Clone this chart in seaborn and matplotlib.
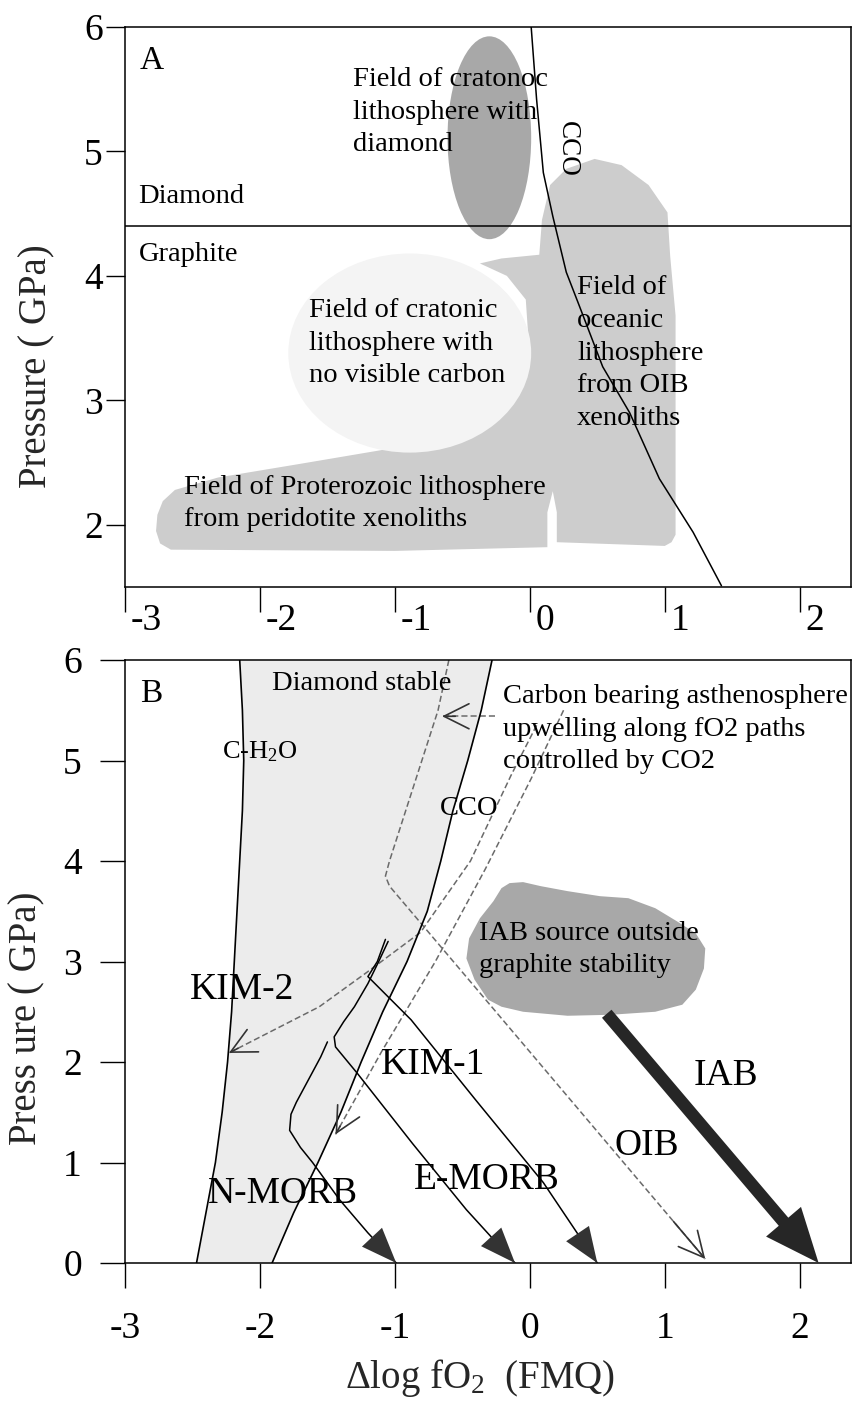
import matplotlib
matplotlib.use("Agg")
import matplotlib.pyplot as plt
import matplotlib.transforms as mtransforms
from matplotlib.patches import Ellipse
import seaborn as sns

# =============================================================================
# DATA  (x = delta log fO2 relative to FMQ, P = pressure in GPa)
# =============================================================================

X_TICKS = [-3, -2, -1, 0, 1, 2]
X_LIM = (-3.0, 2.38)
YA_TICKS = [2, 3, 4, 5, 6]
YA_LIM = (1.5, 6.0)
YB_TICKS = [0, 1, 2, 3, 4, 5, 6]
YB_LIM = (0.0, 6.0)

# --- panel A ---
GRAPHITE_DIAMOND_P = 4.40

CCO_A_X = [0.01, 0.05, 0.10, 0.17, 0.21, 0.27, 0.37, 0.54, 0.74, 0.96, 1.21, 1.42]
CCO_A_P = [6.00, 5.42, 4.83, 4.48, 4.30, 4.03, 3.75, 3.27, 2.90, 2.37, 1.94, 1.51]

# Proterozoic + oceanic lithosphere field (outline)
FIELD_X = [-2.77, -2.76, -2.72, -2.63, -2.31, -1.70, -1.10, -0.69, -0.37, -0.13, -0.01,
           -0.03, -0.17, -0.37, -0.21, 0.07, 0.09, 0.15, 0.27, 0.48, 0.68,
           0.88, 1.02, 1.04, 1.08, 1.08, 1.05, 1.00, 0.20, 0.20, 0.17,
           0.13, 0.13, -1.00, -2.66, -2.74]
FIELD_P = [1.95, 2.08, 2.19, 2.28, 2.38, 2.49, 2.60, 2.73, 2.92, 3.17, 3.49,
           3.81, 4.00, 4.10, 4.14, 4.17, 4.45, 4.73, 4.86, 4.94, 4.89,
           4.73, 4.51, 4.16, 3.68, 1.92, 1.86, 1.83, 1.86, 2.10, 2.27,
           2.10, 1.82, 1.79, 1.80, 1.85]

# ellipses: (centre x, centre P, width, height)
DIAMOND_FIELD = (-0.30, 5.11, 0.62, 1.63)
NO_CARBON_FIELD = (-0.89, 3.38, 1.80, 1.60)

# --- panel B ---
P_LEVELS = [6.0, 5.5, 5.0, 4.5, 4.0, 3.5, 3.0, 2.5, 2.0, 1.5, 1.0, 0.5, 0.0]
CH2O_X = [-2.15, -2.13, -2.12, -2.13, -2.15, -2.17, -2.19, -2.21, -2.24, -2.28, -2.33, -2.40, -2.47]
CCO_B_X = [-0.28, -0.36, -0.46, -0.57, -0.66, -0.76, -0.91, -1.09, -1.25, -1.40, -1.57, -1.75, -1.91]

IAB_SRC_X = [-0.15, -0.05, 0.08, 0.28, 0.52, 0.73, 0.93, 1.09, 1.23, 1.30, 1.29, 1.23,
             1.13, 0.93, 0.60, 0.28, -0.05, -0.21, -0.31, -0.41, -0.47, -0.45, -0.37, -0.27, -0.21]
IAB_SRC_P = [3.78, 3.79, 3.75, 3.70, 3.65, 3.63, 3.53, 3.40, 3.28, 3.13, 2.93, 2.72,
             2.57, 2.50, 2.47, 2.46, 2.50, 2.55, 2.62, 2.82, 3.03, 3.23, 3.43, 3.60, 3.73]

OIB_X = [-0.60, -0.68, -0.80, -0.92, -1.04, -1.07, -1.04, 1.30]
OIB_P = [6.00, 5.50, 5.00, 4.50, 4.00, 3.85, 3.75, 0.04]

POINTER_X = [-0.26, -0.65]
POINTER_P = [5.44, 5.44]

KIM2_DASH_X = [0.05, -0.14, -0.44, -0.81, -1.21, -1.56, -2.23]
KIM2_DASH_P = [5.35, 4.85, 4.00, 3.29, 2.89, 2.55, 2.09]

KIM1_DASH_X = [0.25, 0.01, -0.33, -0.70, -1.10, -1.44]
KIM1_DASH_P = [5.50, 4.82, 3.92, 3.00, 2.10, 1.28]

NMORB_X = [-1.50, -1.55, -1.61, -1.67, -1.73, -1.77, -1.78, -1.70, -1.61, -1.41, -1.20, -0.99]
NMORB_P = [2.20, 2.05, 1.90, 1.75, 1.60, 1.48, 1.32, 1.15, 1.00, 0.63, 0.30, 0.00]

EMORB_X = [-1.05, -1.12, -1.20, -1.30, -1.38, -1.45, -1.44, -1.28, -0.87, -0.47, -0.11]
EMORB_P = [3.20, 3.00, 2.78, 2.55, 2.40, 2.25, 2.15, 1.89, 1.19, 0.53, 0.00]

KIM1_X = [-1.07, -1.13, -1.20, -0.88, -0.40, 0.10, 0.50]
KIM1_P = [3.22, 3.00, 2.85, 2.42, 1.62, 0.80, 0.00]

IAB_X = [0.57, 2.14]
IAB_P = [2.48, 0.00]

# =============================================================================
# STYLE
# =============================================================================

FS_TICK = 27
FS_LABEL = 28
FS_PANEL = 24
FS_TEXT = 20.5
FS_BIG = 27

C_FIELD = "#cdcdcd"
C_DARK = "#a8a8a8"
C_PALE = "#f4f4f4"
C_BAND = "#ececec"
C_DASH = "#6a6a6a"

sns.set_theme(style="ticks")
plt.rcParams.update({
    "font.family": ["Liberation Serif", "DejaVu Serif"],
    "mathtext.fontset": "custom",
    "mathtext.rm": "Liberation Serif",
    "mathtext.it": "Liberation Serif:italic",
    "axes.edgecolor": "black",
    "axes.linewidth": 1.1,
    "xtick.color": "black",
    "ytick.color": "black",
    "text.color": "black",
})


def line(ax, xs, ps, **kw):
    sns.lineplot(x=xs, y=ps, sort=False, estimator=None, ax=ax, legend=False, **kw)


def head(ax, xs, ps, style, scale, color, lw, back=1.0):
    tip = (xs[-1], ps[-1])
    tail = (xs[-1] + back * (xs[-2] - xs[-1]), ps[-1] + back * (ps[-2] - ps[-1]))
    ax.annotate("", xy=tip, xytext=tail, zorder=4,
                arrowprops=dict(arrowstyle=style, mutation_scale=scale, color=color,
                                lw=lw, shrinkA=0, shrinkB=0))


W, H = 856, 1404
fig = plt.figure(figsize=(W / 100, H / 100), dpi=100)
ax_a = fig.add_axes([125 / W, 1 - 587 / H, 726 / W, 560 / H])
ax_b = fig.add_axes([125 / W, 1 - 1263 / H, 726 / W, 603 / H])

# ---------------------------------------------------------------- panel A
ax_a.fill(FIELD_X, FIELD_P, color=C_FIELD, lw=0, zorder=1)
cx, cp, w, h = NO_CARBON_FIELD
ax_a.add_patch(Ellipse((cx, cp), w, h, color=C_PALE, lw=0, zorder=1.5))
cx, cp, w, h = DIAMOND_FIELD
ax_a.add_patch(Ellipse((cx, cp), w, h, color=C_DARK, lw=0, zorder=1.5))

ax_a.axhline(GRAPHITE_DIAMOND_P, color="black", lw=1.1, zorder=3)
line(ax_a, CCO_A_X, CCO_A_P, color="black", linewidth=1.1, zorder=3)

ax_a.text(-2.89, 5.73, "A", fontsize=FS_PANEL, va="center", ha="left")
ax_a.text(-2.90, 4.64, "Diamond", fontsize=FS_TEXT, va="center", ha="left")
ax_a.text(-2.90, 4.17, "Graphite", fontsize=FS_TEXT, va="center", ha="left")
ax_a.text(-1.31, 5.315, "Field of cratonoc\nlithosphere with\ndiamond",
          fontsize=FS_TEXT, va="center", ha="left", linespacing=1.4, zorder=5)
ax_a.text(-1.64, 3.46, "Field of cratonic\nlithosphere with\nno visible carbon",
          fontsize=FS_TEXT, va="center", ha="left", linespacing=1.4, zorder=5)
ax_a.text(0.35, 3.38, "Field of\noceanic\nlithosphere\nfrom OIB\nxenoliths",
          fontsize=FS_TEXT, va="center", ha="left", linespacing=1.4, zorder=5)
ax_a.text(-2.56, 2.17, "Field of Proterozoic lithosphere\nfrom peridotite xenoliths",
          fontsize=FS_TEXT, va="center", ha="left", linespacing=1.4, zorder=5)
ax_a.text(0.28, 5.02, "CCO", fontsize=19.5, rotation=-90, va="center", ha="center")

ax_a.set_xlim(*X_LIM)
ax_a.set_ylim(*YA_LIM)
ax_a.set_xticks(X_TICKS)
ax_a.set_xticklabels([str(v) for v in X_TICKS])
ax_a.set_yticks(YA_TICKS)
ax_a.tick_params(axis="x", direction="out", length=18, width=1.0, pad=-6,
                 labelsize=FS_TICK)
ax_a.tick_params(axis="y", direction="out", length=14, width=1.0, pad=2,
                 labelsize=FS_TICK)
shift = mtransforms.ScaledTranslation(4 / 72, 0, fig.dpi_scale_trans)
for lab in ax_a.get_xticklabels():
    lab.set_horizontalalignment("left")
    lab.set_transform(lab.get_transform() + shift)
ax_a.set_xlabel("")
ax_a.set_ylabel("Pressure ( GPa)", fontsize=FS_LABEL, va="center", ha="center")
ax_a.yaxis.set_label_coords(-0.121, 0.395)

# ---------------------------------------------------------------- panel B
ax_b.fill_betweenx(P_LEVELS, CH2O_X, CCO_B_X, color=C_BAND, lw=0, zorder=1)
ax_b.fill(IAB_SRC_X, IAB_SRC_P, color=C_DARK, lw=0, zorder=1)

line(ax_b, CH2O_X, P_LEVELS, color="black", linewidth=1.2, zorder=3)
line(ax_b, CCO_B_X, P_LEVELS, color="black", linewidth=1.2, zorder=3)

dash = (0, (4, 2))
for xs, ps in [(OIB_X, OIB_P), (POINTER_X, POINTER_P),
               (KIM2_DASH_X, KIM2_DASH_P), (KIM1_DASH_X, KIM1_DASH_P)]:
    line(ax_b, xs, ps, color=C_DASH, linewidth=1.1, linestyle=dash, zorder=2)
    head(ax_b, xs, ps, "->,head_length=0.6,head_width=0.3", 30, "#333333", 1.2,
         back=0.1 if len(xs) > 2 else 0.25)

for xs, ps in [(NMORB_X, NMORB_P), (EMORB_X, EMORB_P), (KIM1_X, KIM1_P)]:
    line(ax_b, xs, ps, color="black", linewidth=1.1, zorder=3)
    head(ax_b, xs, ps, "-|>,head_length=0.85,head_width=0.33", 30, "#333333", 0)

ax_b.annotate("", xy=(IAB_X[1], IAB_P[1]), xytext=(IAB_X[0], IAB_P[0]), zorder=4,
              arrowprops=dict(arrowstyle="simple,head_length=1.3,head_width=1.1,tail_width=0.3",
                              mutation_scale=30, color="#262626", lw=0,
                              shrinkA=0, shrinkB=0))

ax_b.text(-2.89, 5.66, "B", fontsize=FS_PANEL, va="center", ha="left")
ax_b.text(-1.91, 5.77, "Diamond stable", fontsize=FS_TEXT, va="center", ha="left")
ax_b.text(-2.28, 5.09, "C-H$_2$O", fontsize=19, va="center", ha="left")
ax_b.text(-0.67, 4.52, "CCO", fontsize=FS_TEXT, va="center", ha="left")
ax_b.text(-0.20, 5.31, "Carbon bearing asthenosphere\nupwelling along fO2 paths\ncontrolled by CO2",
          fontsize=FS_TEXT, va="center", ha="left", linespacing=1.4, zorder=5)
ax_b.text(-0.38, 3.12, "IAB source outside\ngraphite stability",
          fontsize=FS_TEXT, va="center", ha="left", linespacing=1.4, zorder=5)
ax_b.text(-2.13, 2.72, "KIM-2", fontsize=FS_BIG, va="center", ha="center")
ax_b.text(-0.72, 1.97, "KIM-1", fontsize=FS_BIG, va="center", ha="center")
ax_b.text(-1.83, 0.69, "N-MORB", fontsize=FS_BIG, va="center", ha="center")
ax_b.text(-0.32, 0.83, "E-MORB", fontsize=FS_BIG, va="center", ha="center")
ax_b.text(0.87, 1.17, "OIB", fontsize=FS_BIG, va="center", ha="center")
ax_b.text(1.45, 1.86, "IAB", fontsize=FS_BIG, va="center", ha="center")

ax_b.set_xlim(*X_LIM)
ax_b.set_ylim(*YB_LIM)
ax_b.set_xticks(X_TICKS)
ax_b.set_xticklabels([str(v) for v in X_TICKS])
ax_b.set_yticks(YB_TICKS)
ax_b.tick_params(axis="x", direction="out", length=18, width=1.0, pad=17,
                 labelsize=FS_TICK)
ax_b.tick_params(axis="y", direction="out", length=18, width=1.0, pad=13,
                 labelsize=FS_TICK)
ax_b.set_xlabel("\u0394log fO$_2$  (FMQ)", fontsize=FS_LABEL, va="center")
ax_b.xaxis.set_label_coords(0.489, -0.19)
ax_b.set_ylabel("Press ure ( GPa)", fontsize=FS_LABEL, va="center", ha="center")
ax_b.yaxis.set_label_coords(-0.135, 0.406)

fig.savefig("out.png", dpi=100)
